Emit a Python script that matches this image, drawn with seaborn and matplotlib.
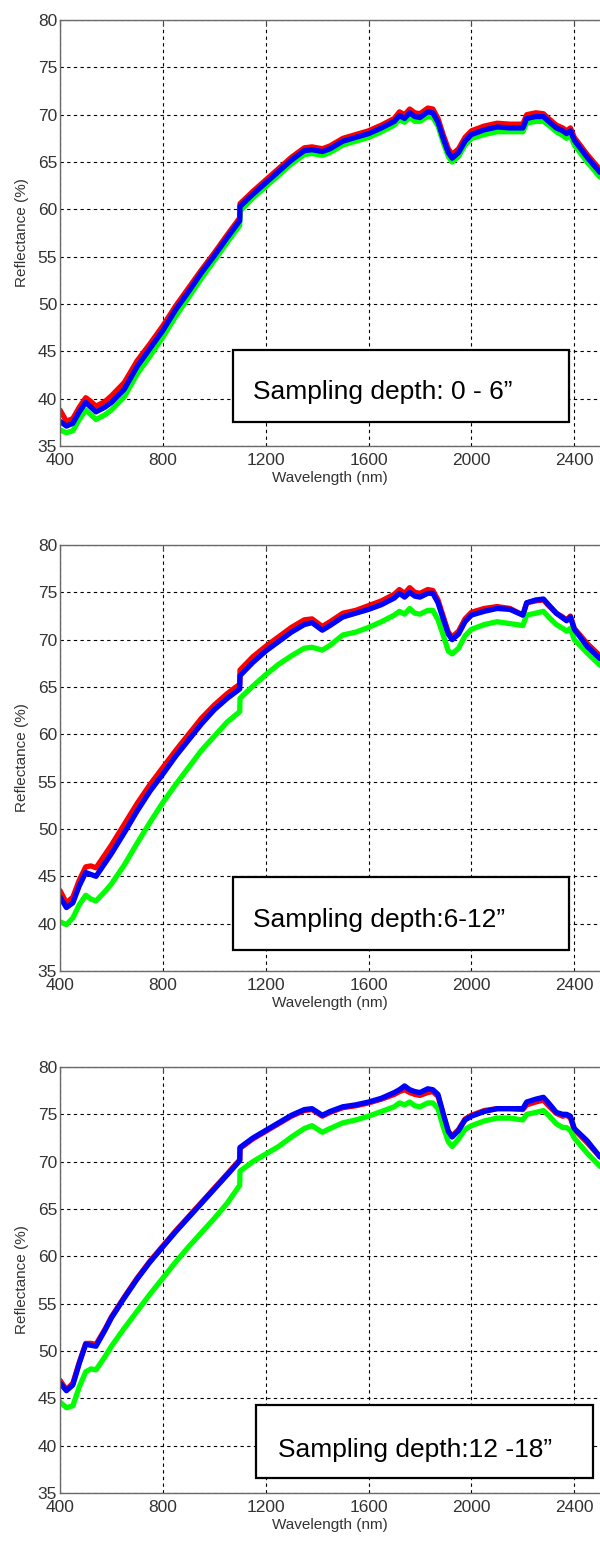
import pandas as pd
import matplotlib
matplotlib.use("Agg")
import matplotlib.pyplot as plt
import seaborn as sns
from matplotlib.patches import Rectangle

# wavelength grid (nm), shared by all spectra
wavelength = [400, 425, 450, 475, 500, 520, 540, 575, 600, 650, 700, 750, 800, 850,
              900, 950, 1000, 1050, 1099, 1100, 1150, 1200, 1250, 1300, 1350, 1380,
              1420, 1450, 1500, 1550, 1600, 1650, 1700, 1720, 1740, 1760, 1780, 1800,
              1830, 1850, 1870, 1890, 1910, 1925, 1950, 1975, 2000, 2050, 2100, 2150,
              2200, 2215, 2250, 2280, 2300, 2330, 2355, 2370, 2385, 2400, 2450, 2500]

# depth 0 - 6"
d1_red = [38.8, 37.6, 37.9, 39.1, 40.1, 39.7, 39.2, 39.7, 40.3, 41.7, 44.0, 45.8, 47.7, 49.8,
          51.7, 53.6, 55.4, 57.3, 59.1, 60.6, 61.9, 63.1, 64.3, 65.5, 66.5, 66.6,
          66.4, 66.7, 67.5, 67.9, 68.3, 68.9, 69.6, 70.3, 70.0, 70.6, 70.2, 70.1,
          70.7, 70.6, 69.6, 67.9, 66.4, 65.8, 66.4, 67.6, 68.3, 68.8, 69.1, 69.0,
          69.0, 70.0, 70.2, 70.1, 69.6, 68.9, 68.6, 68.3, 68.6, 67.6, 65.8, 64.2]
d1_green = [36.7, 36.4, 36.6, 37.8, 38.8, 38.3, 37.8, 38.3, 38.8, 40.2, 42.6, 44.5, 46.5, 48.7,
            50.7, 52.7, 54.6, 56.5, 58.3, 59.8, 61.2, 62.4, 63.6, 64.8, 65.8, 65.9,
            65.7, 66.0, 66.8, 67.2, 67.6, 68.2, 68.9, 69.5, 69.2, 69.7, 69.3, 69.3,
            69.8, 69.7, 68.8, 67.1, 65.6, 65.0, 65.6, 66.8, 67.5, 67.9, 68.2, 68.2,
            68.2, 69.1, 69.3, 69.3, 68.9, 68.2, 67.8, 67.5, 67.8, 66.8, 65.0, 63.4]
d1_blue = [37.6, 37.1, 37.4, 38.6, 39.6, 39.1, 38.6, 39.1, 39.6, 41.0, 43.4, 45.3, 47.2, 49.4,
           51.3, 53.3, 55.1, 57.0, 58.8, 60.3, 61.6, 62.8, 64.0, 65.2, 66.2, 66.3,
           66.1, 66.4, 67.2, 67.6, 68.0, 68.6, 69.3, 69.9, 69.6, 70.2, 69.8, 69.7,
           70.3, 70.2, 69.2, 67.5, 66.0, 65.4, 66.0, 67.2, 67.9, 68.4, 68.7, 68.6,
           68.6, 69.6, 69.8, 69.8, 69.3, 68.6, 68.3, 68.0, 68.3, 67.3, 65.5, 63.9]

# depth 6 - 12"
d2_red = [43.5, 42.2, 42.8, 44.6, 46.0, 46.1, 45.9, 47.3, 48.3, 50.5, 52.7, 54.7, 56.5, 58.3,
          60.0, 61.7, 63.1, 64.3, 65.3, 66.8, 68.2, 69.3, 70.3, 71.3, 72.1, 72.2,
          71.4, 71.9, 72.8, 73.1, 73.6, 74.1, 74.8, 75.3, 74.9, 75.5, 75.0, 74.9,
          75.3, 75.2, 74.2, 72.5, 70.8, 70.3, 70.9, 72.2, 72.9, 73.3, 73.5, 73.3,
          72.6, 73.9, 74.1, 74.2, 73.6, 72.8, 72.4, 72.1, 72.5, 71.2, 69.6, 68.3]
d2_green = [40.2, 39.9, 40.6, 42.0, 43.0, 42.6, 42.4, 43.4, 44.2, 46.2, 48.5, 50.7, 52.8, 54.7,
            56.5, 58.3, 59.8, 61.3, 62.4, 63.8, 65.1, 66.3, 67.4, 68.3, 69.1, 69.2,
            68.9, 69.4, 70.5, 70.8, 71.3, 71.9, 72.6, 73.0, 72.7, 73.3, 72.8, 72.7,
            73.1, 73.1, 72.1, 70.5, 68.8, 68.5, 69.1, 70.4, 71.1, 71.6, 71.9, 71.7,
            71.5, 72.6, 72.8, 73.0, 72.4, 71.6, 71.2, 70.9, 71.2, 70.0, 68.6, 67.3]
d2_blue = [42.8, 41.7, 42.2, 44.0, 45.4, 45.2, 45.0, 46.4, 47.4, 49.6, 51.9, 54.0, 55.8, 57.7,
           59.4, 61.1, 62.6, 63.8, 64.8, 66.2, 67.6, 68.8, 69.8, 70.8, 71.6, 71.8,
           71.0, 71.5, 72.4, 72.8, 73.2, 73.7, 74.4, 74.9, 74.5, 75.0, 74.6, 74.5,
           74.9, 74.9, 73.9, 72.2, 70.6, 70.0, 70.6, 71.9, 72.6, 73.0, 73.3, 73.2,
           72.6, 73.9, 74.2, 74.3, 73.7, 72.8, 72.3, 72.0, 72.4, 71.1, 69.3, 68.0]

# depth 12 - 18"
d3_red = [46.9, 45.9, 46.6, 48.8, 50.8, 50.8, 50.7, 52.3, 53.6, 55.7, 57.7, 59.5, 61.1, 62.7,
          64.2, 65.7, 67.2, 68.7, 70.2, 71.4, 72.4, 73.2, 74.0, 74.8, 75.4, 75.5,
          74.8, 75.2, 75.7, 75.9, 76.2, 76.6, 77.1, 77.4, 77.6, 77.3, 77.1, 77.0,
          77.3, 77.4, 76.9, 75.0, 73.2, 72.7, 73.4, 74.5, 74.9, 75.4, 75.6, 75.6,
          75.5, 76.0, 76.3, 76.5, 75.9, 75.1, 74.8, 74.9, 74.6, 73.4, 72.0, 70.5]
d3_green = [44.6, 44.0, 44.2, 46.2, 47.8, 48.1, 48.0, 49.4, 50.5, 52.4, 54.2, 56.0, 57.7, 59.4,
            61.0, 62.5, 64.0, 65.6, 67.5, 69.0, 70.0, 70.8, 71.6, 72.6, 73.5, 73.8,
            73.1, 73.5, 74.1, 74.4, 74.8, 75.3, 75.8, 76.2, 76.0, 76.3, 75.9, 75.8,
            76.2, 76.2, 75.6, 73.7, 72.1, 71.6, 72.4, 73.4, 73.8, 74.3, 74.6, 74.6,
            74.4, 75.0, 75.2, 75.4, 74.9, 74.0, 73.6, 73.6, 73.3, 72.5, 70.9, 69.5]
d3_blue = [46.6, 45.8, 46.4, 48.7, 50.7, 50.6, 50.5, 52.2, 53.5, 55.6, 57.6, 59.4, 61.0, 62.6,
           64.1, 65.6, 67.1, 68.6, 70.1, 71.5, 72.5, 73.3, 74.1, 74.9, 75.5, 75.6,
           74.9, 75.3, 75.8, 76.0, 76.3, 76.7, 77.3, 77.6, 78.0, 77.6, 77.4, 77.3,
           77.7, 77.6, 77.1, 75.1, 73.2, 72.6, 73.3, 74.4, 74.8, 75.3, 75.6, 75.6,
           75.6, 76.3, 76.6, 76.8, 76.2, 75.2, 75.0, 75.0, 74.8, 73.5, 72.2, 70.5]

panels = [
    ([d1_red, d1_green, d1_blue], "Sampling depth: 0 - 6\u201d"),
    ([d2_red, d2_green, d2_blue], "Sampling depth:6-12\u201d"),
    ([d3_red, d3_green, d3_blue], "Sampling depth:12 -18\u201d"),
]
colors = ["#ff0000", "#00ff00", "#0000ff"]

sns.set_style("white")
plt.rcParams['font.family'] = ['Liberation Sans', 'DejaVu Sans']

fig = plt.figure(figsize=(6, 15.41), dpi=100)

# axes boxes, in figure fractions (left, bottom, width, height)
ax_pos = [(0.1, 0.7106, 0.9, 0.2764),
          (0.1, 0.3699, 0.9, 0.2764),
          (0.1, 0.0312, 0.9, 0.2764)]
# label box (x0, y0, w, h) and text anchor, in axes fractions
box_pos = [((0.320, 0.056, 0.623, 0.169), (0.357, 0.127)),
           ((0.320, 0.049, 0.623, 0.172), (0.357, 0.120)),
           ((0.363, 0.035, 0.624, 0.172), (0.404, 0.101))]

for (series, label), pos, (rect, txt) in zip(panels, ax_pos, box_pos):
    ax = fig.add_axes(pos)
    df = pd.DataFrame({
        'Wavelength': wavelength * 3,
        'Reflectance': series[0] + series[1] + series[2],
        'sample': ['r'] * len(wavelength) + ['g'] * len(wavelength) + ['b'] * len(wavelength),
    })
    sns.lineplot(data=df, x='Wavelength', y='Reflectance', hue='sample',
                 hue_order=['r', 'g', 'b'], palette=colors, linewidth=3.8,
                 legend=False, ax=ax, sort=False)

    ax.set_xlim(400, 2500)
    ax.set_ylim(35, 80)
    ax.set_xticks([400, 800, 1200, 1600, 2000, 2400])
    ax.set_yticks(range(35, 81, 5))
    ax.grid(True, color='black', linestyle=(0, (3, 3)), linewidth=0.8)
    ax.set_axisbelow(True)
    ax.tick_params(direction='in', length=4, labelsize=12.5, colors='#4a4a4a',
                   labelcolor='#333333', top=True)
    ax.tick_params(axis='x', pad=5)
    ax.tick_params(axis='y', pad=2)
    for s in ['left', 'bottom', 'top']:
        ax.spines[s].set_color('#6a6a6a')
        ax.spines[s].set_linewidth(1.0)
    ax.spines['right'].set_visible(False)

    ax.set_xlabel('Wavelength (nm)', fontsize=11, color='#333333', labelpad=2)
    ax.set_ylabel('Reflectance (%)', fontsize=11, color='#333333', labelpad=6)

    ax.add_patch(Rectangle((rect[0], rect[1]), rect[2], rect[3], transform=ax.transAxes,
                           facecolor='white', edgecolor='black', linewidth=1.6, zorder=5))
    ax.text(txt[0], txt[1], label, transform=ax.transAxes, fontsize=19,
            va='center', ha='left', color='black', zorder=6)

fig.savefig('out.png', dpi=100)
